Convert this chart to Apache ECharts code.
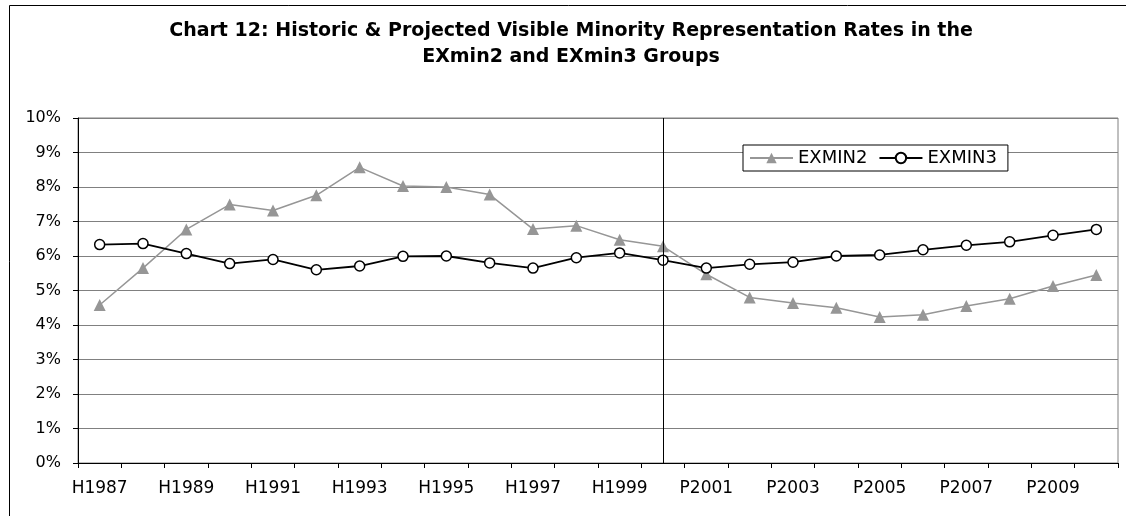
<!DOCTYPE html>
<html>
<head>
<meta charset="utf-8">
<script src="https://cdn.jsdelivr.net/npm/echarts@6/dist/echarts.min.js"></script>
<style>
html,body{margin:0;padding:0;background:#fff;}
#chart{width:1126px;height:516px;}
</style>
</head>
<body>
<div id="chart"></div>
<script>
var categories = ['H1987','H1988','H1989','H1990','H1991','H1992','H1993','H1994','H1995','H1996','H1997','H1998','H1999','H2000',
  'P2001','P2002','P2003','P2004','P2005','P2006','P2007','P2008','P2009','P2010'];
var exmin2 = [4.58, 5.65, 6.77, 7.49, 7.32, 7.76, 8.57, 8.03, 8.00, 7.78, 6.78, 6.88, 6.47, 6.28,
  5.47, 4.80, 4.64, 4.50, 4.23, 4.30, 4.55, 4.76, 5.13, 5.45];
var exmin3 = [6.33, 6.36, 6.07, 5.78, 5.90, 5.60, 5.71, 5.99, 6.00, 5.80, 5.65, 5.95, 6.09, 5.88,
  5.65, 5.76, 5.82, 6.00, 6.03, 6.18, 6.31, 6.41, 6.60, 6.77];
var dividerCategory = 'H2000';
var titleText = 'Chart 12: Historic & Projected Visible Minority Representation Rates in the\nEXmin2 and EXmin3 Groups';

var chart = echarts.init(document.getElementById('chart'), null, {renderer: 'canvas'});
var font = 'DejaVu Sans';
chart.setOption({
  animation: false,
  backgroundColor: '#fff',
  graphic: [{
    type: 'rect', left: 7, top: 3, silent: true,
    shape: {width: 1300, height: 700},
    style: {fill: 'none', stroke: '#000', lineWidth: 1}
  }],
  title: {
    text: titleText,
    left: 566,
    top: 13,
    textAlign: 'center',
    textStyle: {fontFamily: font, fontWeight: 'bold', fontSize: 19, lineHeight: 26, color: '#000'}
  },
  legend: {
    left: 743, top: 145,
    orient: 'horizontal',
    backgroundColor: '#fff',
    borderColor: '#000', borderWidth: 1, borderRadius: 0,
    padding: [4, 11, 4, 6],
    itemWidth: 43, itemHeight: 13, itemGap: 11,
    textStyle: {fontFamily: font, fontSize: 18, color: '#000', padding: [0,0,0,0]},
    data: ['EXMIN2', 'EXMIN3']
  },
  grid: {left: 78, right: 8, top: 118, bottom: 53, show: true, borderColor: '#808080', borderWidth: 1},
  xAxis: {
    type: 'category',
    data: categories,
    boundaryGap: true,
    axisLine: {lineStyle: {color: '#000', width: 1}},
    axisTick: {show: true, interval: 0, length: 5, lineStyle: {color: '#000'}},
    axisLabel: {interval: 1, margin: 17, fontFamily: font, fontSize: 17, color: '#000'},
    splitLine: {show: false}
  },
  yAxis: {
    type: 'value',
    min: 0, max: 10, interval: 1,
    axisLine: {show: true, lineStyle: {color: '#000', width: 1}},
    axisTick: {show: true, length: 5, lineStyle: {color: '#000'}},
    axisLabel: {formatter: '{value}%', margin: 17, fontFamily: font, fontSize: 16, color: '#000'},
    splitLine: {show: true, lineStyle: {color: '#808080', width: 1}}
  },
  series: [{
    name: 'EXMIN2',
    type: 'line',
    data: exmin2,
    symbol: 'triangle',
    symbolSize: 12,
    lineStyle: {color: '#969696', width: 1.5},
    itemStyle: {color: '#969696'},
    markLine: {
      silent: true, symbol: 'none', animation: false,
      label: {show: false},
      lineStyle: {color: '#000', width: 1, type: 'solid'},
      data: [{xAxis: dividerCategory}]
    }
  }, {
    name: 'EXMIN3',
    type: 'line',
    data: exmin3,
    symbol: 'circle',
    symbolSize: 10,
    lineStyle: {color: '#000', width: 1.8},
    itemStyle: {color: '#fff', borderColor: '#000', borderWidth: 1.5}
  }]
});
</script>
</body>
</html>
